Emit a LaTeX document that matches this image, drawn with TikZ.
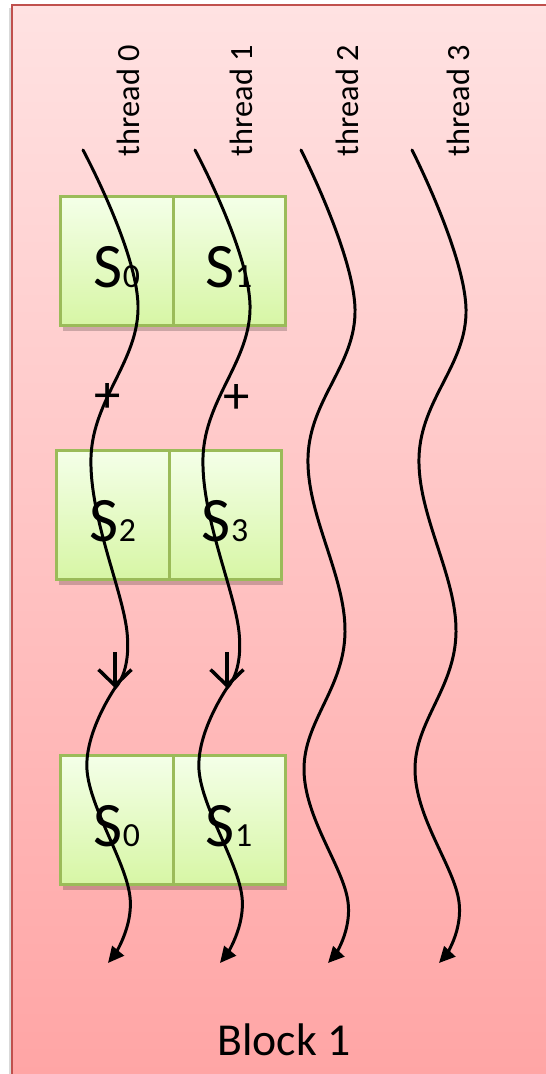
\documentclass[tikz,border=0pt]{standalone}
\usepackage{fontspec}
\setmainfont{Carlito}
\usepackage{tikz}
\usetikzlibrary{arrows.meta,positioning,shadows}

\definecolor{blockred}{RGB}{192,80,77}
\definecolor{blocktop}{RGB}{255,226,226}
\definecolor{blockbot}{RGB}{255,163,163}
\definecolor{smemline}{RGB}{155,187,89}
\definecolor{smemtop}{RGB}{244,255,232}
\definecolor{smembot}{RGB}{215,246,165}

\newcommand{\sname}[1]{{\fontsize{18}{20}\selectfont S}{\fontsize{9.6}{11}\selectfont #1}}

\tikzset{
	block/.style={draw=blockred, line width=0.8pt, top color=blocktop, bottom color=blockbot,
		drop shadow={shadow xshift=-0.03cm, shadow yshift=-0.03cm, fill=black, opacity=0.15}},
	smem/.style={draw=smemline, line width=0.85pt, top color=smemtop, bottom color=smembot,
		minimum width=1.12cm, minimum height=1.28cm, inner sep=0pt, outer sep=0pt,
		text height=0.53cm, text depth=0pt,
		drop shadow={shadow xshift=0.02cm, shadow yshift=-0.06cm, fill=black, opacity=0.2}},
	tlabel/.style={rotate=90, anchor=west, inner sep=0pt, font=\fontsize{9.2}{11}\selectfont},
	plus/.style={inner sep=0pt, font=\fontsize{15}{17}\selectfont},
	wave/.style={line width=0.85pt, line cap=round},
	tip/.style={-{Triangle[length=0.16cm,width=0.15cm]}},
	vbarb/.style={line width=1pt, -{Straight Barb[length=0.16cm,width=0.33cm]}}
}

\begin{document}
\begin{tikzpicture}[x=0.01cm, y=-0.01cm]
	\useasboundingbox (0,0) rectangle (545,1074);
	\path[block] (12,5) rectangle (580,1110);
	\node[inner sep=0pt, font=\fontsize{13}{15}\selectfont] (blk) at (284,1040) {Block 1};

	% shared memory, read twice then written back
	\node[smem] (a0) at (117,261) {\sname{0}};
	\node[smem, right=0pt of a0] (a1) {\sname{1}};
	\node[smem] (b0) at (113,515) {\sname{2}};
	\node[smem, right=0pt of b0] (b1) {\sname{3}};
	\node[smem] (c0) at (117,820) {\sname{0}};
	\node[smem, right=0pt of c0] (c1) {\sname{1}};

	\node[plus] (p0) at (108,398) {+};
	\node[plus] (p1) at (237,399) {+};

	\foreach \i/\x in {0/128,1/241,2/347,3/458}
		\node[tlabel] (th\i) at (\x,157) {thread \i};

	% working threads
	\foreach \i/\d in {0/0,1/112}{
		\coordinate (s\i) at (83+\d,150);
		\coordinate (v\i) at (115+\d,688);
		\coordinate (w\i) at (115+\d,652);
		\coordinate (e\i) at (108+\d,963);
		\draw[wave] plot[smooth, tension=0.65] coordinates {(s\i) (138+\d,305) (91+\d,457) (127+\d,632) (v\i)};
		\draw[vbarb] (w\i) -- (v\i);
		\draw[wave, tip] plot[smooth, tension=0.65] coordinates {(v\i) (87+\d,770) (130+\d,897) (e\i)};
	}
	% idle threads
	\foreach \i/\d in {2/0,3/111}{
		\coordinate (s\i) at (301+\d,150);
		\coordinate (e\i) at (328+\d,963);
		\draw[wave, tip] plot[smooth, tension=0.65] coordinates {(s\i) (355+\d,309) (308+\d,457) (345+\d,632) (304+\d,770) (348+\d,902) (e\i)};
	}
\end{tikzpicture}
\end{document}
